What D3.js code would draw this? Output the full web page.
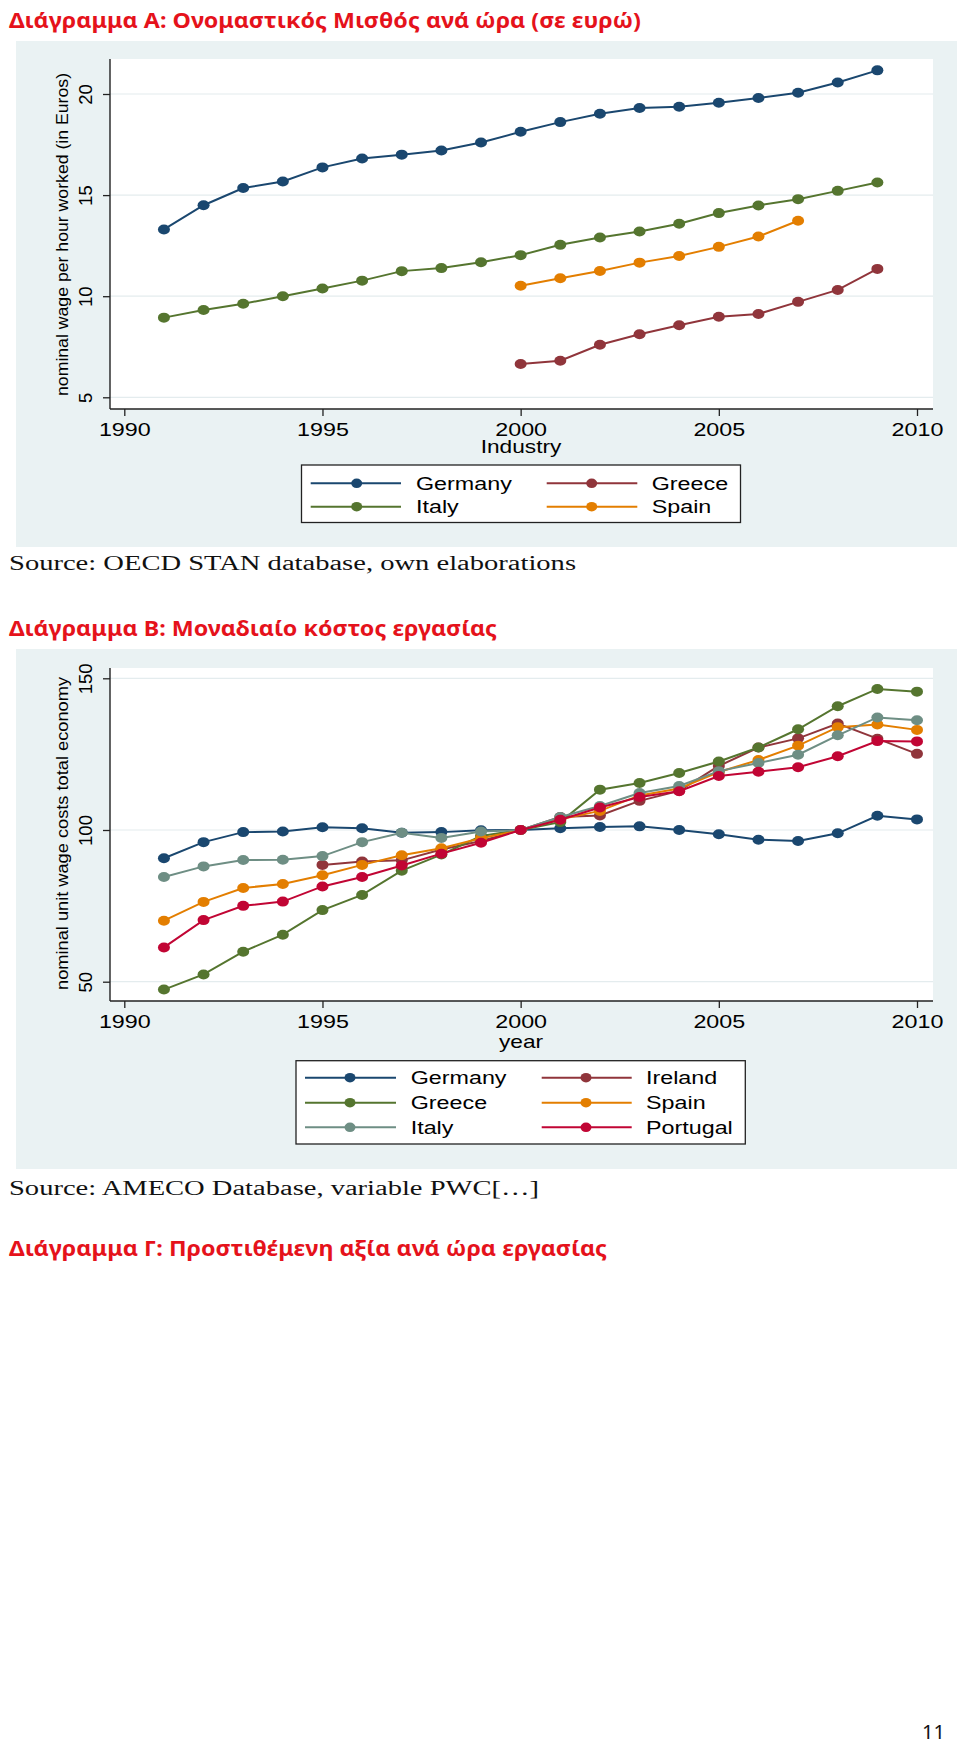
<!DOCTYPE html>
<html>
<head>
<meta charset="utf-8">
<script src="https://cdn.jsdelivr.net/npm/d3@7"></script>
<style>
  html, body { margin: 0; padding: 0; background: #ffffff; }
  svg { display: block; }
</style>
</head>
<body>
<svg id="page" width="960" height="1748"></svg>
<script>
// ---------------- DATA ----------------
// Chart A: nominal wage per hour worked (in Euros), Industry
const yearsA = [1991,1992,1993,1994,1995,1996,1997,1998,1999,2000,2001,2002,2003,2004,2005,2006,2007,2008,2009];
const wageGermany = [13.30,14.50,15.35,15.67,16.37,16.81,17.00,17.21,17.60,18.13,18.61,19.02,19.31,19.37,19.57,19.80,20.06,20.57,21.17];
const wageGreece  = [null,null,null,null,null,null,null,null,null,6.65,6.81,7.60,8.12,8.56,8.98,9.12,9.72,10.31,11.35];
const wageItaly   = [8.94,9.32,9.63,10.00,10.38,10.77,11.24,11.39,11.68,12.03,12.54,12.90,13.20,13.58,14.11,14.49,14.80,15.21,15.62];
const wageSpain   = [null,null,null,null,null,null,null,null,null,10.52,10.89,11.25,11.66,11.99,12.44,12.95,13.73,null,null];
const seriesNamesA = ["Germany","Greece","Italy","Spain"];
const yTicksA = [5,10,15,20];

// Chart B: nominal unit wage costs total economy (2000 = 100)
const yearsB = [1991,1992,1993,1994,1995,1996,1997,1998,1999,2000,2001,2002,2003,2004,2005,2006,2007,2008,2009,2010];
const ulcGermany  = [90.7,96.0,99.3,99.5,100.9,100.6,99.1,99.3,99.9,100,100.6,101.0,101.2,100.0,98.6,96.8,96.4,98.9,104.7,103.5];
const ulcIreland  = [null,null,null,null,88.5,89.6,90.0,93.6,96.4,100,104.3,104.8,109.6,112.9,121.1,127.2,130.2,135.1,130.1,125.1];
const ulcGreece   = [47.4,52.4,59.9,65.5,73.6,78.6,86.6,91.9,98.0,100,102.6,113.3,115.5,118.8,122.6,127.2,133.2,140.8,146.5,145.6];
const ulcSpain    = [70.1,76.3,80.9,82.2,85.1,88.5,91.7,94.0,97.3,100,103.5,106.3,111.4,113.7,119.1,123.1,127.8,133.9,134.8,133.0];
const ulcItaly    = [84.5,88.0,90.1,90.2,91.4,96.0,99.1,97.4,99.5,100,104.3,107.9,112.2,114.5,119.4,122.1,124.8,131.2,137.1,136.2];
const ulcPortugal = [61.3,70.3,75.0,76.4,81.4,84.5,88.3,92.2,95.8,100,103.4,107.4,110.9,112.8,117.8,119.2,120.7,124.3,129.3,129.2];
const seriesNamesB = ["Germany","Ireland","Greece","Spain","Italy","Portugal"];
const yTicksB = [50,100,150];

const xTicks = [1990,1995,2000,2005,2010];

// ---------------- STYLE ----------------
const colors = {navy:"#1a476f", maroon:"#90353b", green:"#55752f", orange:"#e37e00", teal:"#6e8e84", cranberry:"#c10534"};
const stataFont = "'Liberation Sans', Arial, sans-serif";
const SX = 1.26;          // horizontal stretch of the page rendering
const panelBg = "#eaf2f3";
const gridCol = "#e4ecee";

const svg = d3.select("#page");

function stretchedText(g, x, y, txt, opts) {
  opts = opts || {};
  return g.append("text")
    .attr("transform", `translate(${x},${y}) scale(${opts.sx || SX},1)`)
    .attr("text-anchor", opts.anchor || "start")
    .attr("font-family", opts.family || stataFont)
    .attr("font-size", opts.size || 18.5)
    .attr("fill", opts.fill || "#000")
    .text(txt);
}

function heading(y, txt, width) {
  svg.append("text")
    .attr("x", 9).attr("y", y)
    .attr("font-family", "'Noto Sans', 'Open Sans', sans-serif")
    .attr("font-weight", 700)
    .attr("font-size", 22)
    .attr("fill", "#e5121b")
    .attr("textLength", width)
    .attr("lengthAdjust", "spacingAndGlyphs")
    .text(txt);
}

function source(y, txt, width) {
  svg.append("text")
    .attr("x", 9).attr("y", y)
    .attr("font-family", "'Liberation Serif', 'Times New Roman', serif")
    .attr("font-size", 20)
    .attr("fill", "#111")
    .attr("textLength", width)
    .attr("lengthAdjust", "spacingAndGlyphs")
    .text(txt);
}

function drawChart(cfg) {
  const g = svg.append("g");
  // panel background
  g.append("rect").attr("x", 16).attr("y", cfg.panelTop).attr("width", 941).attr("height", cfg.panelBottom - cfg.panelTop).attr("fill", panelBg);
  // plot region
  g.append("rect").attr("x", 110).attr("y", cfg.plotTop).attr("width", 823).attr("height", cfg.axisY - cfg.plotTop).attr("fill", "#fff");

  const x = d3.scaleLinear().domain([1990, 2010]).range([124.3, 917]);
  const y = d3.scaleLinear().domain(cfg.yDomain).range(cfg.yRange);

  // gridlines
  g.selectAll(".grid").data(cfg.yTicks).enter().append("line")
    .attr("x1", 110).attr("x2", 933)
    .attr("y1", d => y(d)).attr("y2", d => y(d))
    .attr("stroke", gridCol).attr("stroke-width", 1.2);

  // series
  const line = d3.line().defined(d => d.v !== null).x(d => x(d.yr)).y(d => y(d.v));
  cfg.series.forEach(s => {
    const pts = cfg.years.map((yr, i) => ({yr: yr, v: s.values[i]}));
    const sg = g.append("g");
    sg.append("path").attr("d", line(pts)).attr("fill", "none").attr("stroke", s.color).attr("stroke-width", 2);
    sg.selectAll("ellipse").data(pts.filter(d => d.v !== null)).enter().append("ellipse")
      .attr("cx", d => x(d.yr)).attr("cy", d => y(d.v)).attr("rx", 6).attr("ry", 5)
      .attr("fill", s.color);
  });

  // axes
  const xAxis = g.append("g").attr("transform", `translate(0,${cfg.axisY})`)
    .call(d3.axisBottom(x).tickValues(xTicks).tickFormat(d3.format("d")).tickSize(7).tickSizeOuter(0));
  xAxis.select(".domain").remove();
  xAxis.selectAll(".tick line").attr("stroke", "#222").attr("stroke-width", 1.3);
  xAxis.selectAll(".tick text").attr("y", null).attr("dy", null)
    .attr("transform", `translate(0,26.5) scale(${SX},1)`)
    .attr("font-family", stataFont).attr("font-size", 18.5).attr("fill", "#000");

  const yAxis = g.append("g").attr("transform", "translate(110,0)")
    .call(d3.axisLeft(y).tickValues(cfg.yTicks).tickSize(7).tickSizeOuter(0));
  yAxis.select(".domain").remove();
  yAxis.selectAll(".tick line").attr("stroke", "#222").attr("stroke-width", 1.3);
  yAxis.selectAll(".tick text").attr("x", null).attr("dy", null)
    .attr("transform", "translate(-18,0) rotate(-90)")
    .attr("text-anchor", "middle")
    .attr("font-family", stataFont).attr("font-size", 18.5).attr("fill", "#000");

  // axis lines
  g.append("line").attr("x1", 110).attr("x2", 110).attr("y1", cfg.plotTop).attr("y2", cfg.axisY).attr("stroke", "#222").attr("stroke-width", 1.4);
  g.append("line").attr("x1", 110).attr("x2", 933).attr("y1", cfg.axisY).attr("y2", cfg.axisY).attr("stroke", "#222").attr("stroke-width", 1.4);

  // y title
  g.append("text")
    .attr("transform", `translate(68,${(cfg.yTitleTop + cfg.yTitleBottom) / 2}) rotate(-90)`)
    .attr("text-anchor", "middle")
    .attr("font-family", stataFont).attr("font-size", 16).attr("fill", "#000")
    .attr("textLength", cfg.yTitleBottom - cfg.yTitleTop)
    .attr("lengthAdjust", "spacingAndGlyphs")
    .text(cfg.yTitle);

  // x title
  stretchedText(g, 521, cfg.xTitleY, cfg.xTitle, {anchor: "middle", size: 18});

  // legend
  const L = cfg.legend;
  g.append("rect").attr("x", L.x0).attr("y", L.y0).attr("width", L.x1 - L.x0).attr("height", L.y1 - L.y0)
    .attr("fill", "#fff").attr("stroke", "#222").attr("stroke-width", 1.3);
  cfg.series.forEach((s, i) => {
    const col = i % 2, row = Math.floor(i / 2);
    const c = L.cols[col];
    const ry = L.rows[row];
    g.append("line").attr("x1", c.l1).attr("x2", c.l2).attr("y1", ry).attr("y2", ry).attr("stroke", s.color).attr("stroke-width", 2);
    g.append("ellipse").attr("cx", c.m).attr("cy", ry).attr("rx", 5.5).attr("ry", 4.8).attr("fill", s.color);
    stretchedText(g, c.t, ry + 6.6, s.name);
  });
}

// ---------------- PAGE ----------------
heading(28, "Διάγραμμα Α: Ονομαστικός Μισθός ανά ώρα (σε ευρώ)", 632);

drawChart({
  panelTop: 41, panelBottom: 547, plotTop: 59, axisY: 409,
  yDomain: [5, 20], yRange: [397.3, 94], yTicks: yTicksA,
  years: yearsA,
  series: [
    {name: seriesNamesA[0], values: wageGermany, color: colors.navy},
    {name: seriesNamesA[1], values: wageGreece,  color: colors.maroon},
    {name: seriesNamesA[2], values: wageItaly,   color: colors.green},
    {name: seriesNamesA[3], values: wageSpain,   color: colors.orange}
  ],
  yTitle: "nominal wage per hour worked (in Euros)", yTitleTop: 73, yTitleBottom: 396,
  xTitle: "Industry", xTitleY: 453,
  legend: {x0: 301.5, x1: 740.5, y0: 465, y1: 522.5, rows: [483.3, 506.7],
           cols: [{l1: 310.7, l2: 401, m: 356.7, t: 416}, {l1: 546.7, l2: 637.3, m: 591.7, t: 651.7}]}
});

source(570, "Source: OECD STAN database, own elaborations", 567);

heading(636, "Διάγραμμα Β: Μοναδιαίο κόστος εργασίας", 488);

drawChart({
  panelTop: 649, panelBottom: 1169, plotTop: 668, axisY: 1001,
  yDomain: [50, 150], yRange: [981.7, 678.3], yTicks: yTicksB,
  years: yearsB,
  series: [
    {name: seriesNamesB[0], values: ulcGermany,  color: colors.navy},
    {name: seriesNamesB[1], values: ulcIreland,  color: colors.maroon},
    {name: seriesNamesB[2], values: ulcGreece,   color: colors.green},
    {name: seriesNamesB[3], values: ulcSpain,    color: colors.orange},
    {name: seriesNamesB[4], values: ulcItaly,    color: colors.teal},
    {name: seriesNamesB[5], values: ulcPortugal, color: colors.cranberry}
  ],
  yTitle: "nominal unit wage costs total economy", yTitleTop: 677, yTitleBottom: 990,
  xTitle: "year", xTitleY: 1047.5,
  legend: {x0: 296, x1: 745.3, y0: 1060.7, y1: 1144, rows: [1077.7, 1102.7, 1127.3],
           cols: [{l1: 305, l2: 396, m: 350, t: 410.7}, {l1: 541.7, l2: 631.7, m: 586, t: 646}]}
});

source(1195, "Source: AMECO Database, variable PWC[…]", 530);

heading(1256, "Διάγραμμα Γ: Προστιθέμενη αξία ανά ώρα εργασίας", 598);

// page number
svg.append("text").attr("x", 945).attr("y", 1739).attr("text-anchor", "end")
  .attr("font-family", "'Noto Sans', sans-serif").attr("font-size", 20).attr("fill", "#111").text("11");
</script>
</body>
</html>
